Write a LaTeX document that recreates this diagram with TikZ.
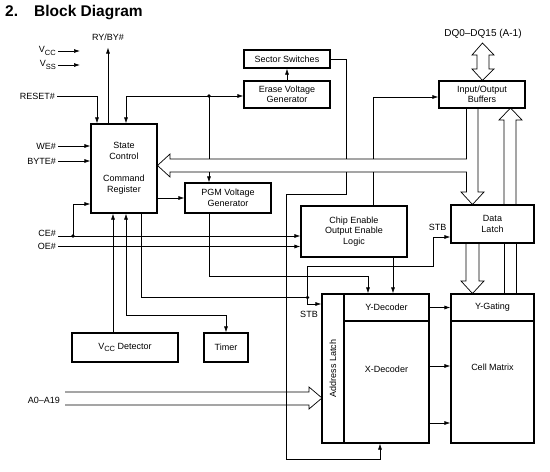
\documentclass[tikz,border=0pt]{standalone}
\usepackage{fontspec}
\setmainfont{Liberation Sans}
\usepackage{tikz}
\usetikzlibrary{arrows.meta}
\newcommand{\subtxt}[1]{\raisebox{-0.45ex}{\fontsize{7.5}{8}\selectfont #1}}

\begin{document}
\begin{tikzpicture}[x=1pt,y=-1pt,
  box/.style={draw,line width=1.2pt,fill=white,inner sep=0pt,align=center,font=\fontsize{9}{10.5}\selectfont},
  lbl/.style={inner sep=2pt,font=\fontsize{9}{10.5}\selectfont},
  wire/.style={line width=0.7pt},
  arr/.style={wire,-{Latex[length=6pt,width=4pt]}},
  arrs/.style={wire,{Latex[length=6pt,width=4pt]}-{Latex[length=6pt,width=4pt]}},
  hollow/.style={line width=0.7pt,line join=miter},
  dot/.style={circle,fill,inner sep=0pt,minimum size=3.6pt}]
  \useasboundingbox (0,0) rectangle (550,472);
  \node[anchor=base west,inner sep=0pt,font=\bfseries\fontsize{15.5}{18}\selectfont] (num) at (5,16.5) {2.};
  \node[anchor=base west,inner sep=0pt,font=\bfseries\fontsize{15.5}{18}\selectfont] (title) at (34,16.5) {Block Diagram};
  \node[box,minimum width=66pt,minimum height=89pt] (sc) at (124,168.5) {State\\Control\\[12pt]Command\\Register};
  \node[box,minimum width=86pt,minimum height=18pt] (sect) at (287,59) {Sector Switches};
  \node[box,minimum width=86pt,minimum height=27pt] (erase) at (287,94.5) {Erase Voltage\\Generator};
  \node[box,minimum width=86pt,minimum height=30pt] (pgm) at (228,198) {PGM Voltage\\Generator};
  \node[box,minimum width=86pt,minimum height=27pt] (iob) at (482,94.5) {Input/Output\\Buffers};
  \node[box,minimum width=106pt,minimum height=51pt] (ceol) at (354,231.5) {Chip Enable\\Output Enable\\Logic};
  \node[box,minimum width=83pt,minimum height=38pt] (dl) at (492.5,224) {Data\\Latch};
  \node[box,minimum width=22pt,minimum height=149pt] (al) at (333,368.5) {\rotatebox{90}{Address Latch}};
  \node[box,minimum width=85pt,minimum height=27pt] (ydec) at (386.5,307.5) {Y-Decoder};
  \node[box,minimum width=85pt,minimum height=122pt] (xdec) at (386.5,382) {};
  \node[lbl] (xdect) at ([yshift=13pt]xdec.center) {X-Decoder};
  \node[box,minimum width=83pt,minimum height=27pt] (yg) at (492.5,307.5) {Y-Gating};
  \node[box,minimum width=83pt,minimum height=122pt] (cm) at (492.5,382) {};
  \node[lbl] (cmt) at ([yshift=15pt]cm.center) {Cell Matrix};
  \node[box,minimum width=106pt,minimum height=29pt] (vccd) at (125,347.5) {V\subtxt{CC} Detector};
  \node[box,minimum width=44pt,minimum height=29pt] (timer) at (226,347.5) {Timer};
  \node[lbl] (ryby) at (108,37) {RY/BY\#};
  \node[lbl,anchor=east] (vcc) at (58,51) {V\subtxt{CC}};
  \node[lbl,anchor=east] (vss) at (58,65) {V\subtxt{SS}};
  \node[lbl,anchor=east] (reset) at (57,96) {RESET\#};
  \node[lbl,anchor=east] (we) at (58,146) {WE\#};
  \node[lbl,anchor=east] (byte) at (58,161) {BYTE\#};
  \node[lbl,anchor=east] (ce) at (58,233.5) {CE\#};
  \node[lbl,anchor=east] (oe) at (58,246.5) {OE\#};
  \node[lbl,anchor=east] (addr) at (62,400) {A0--A19};
  \node[lbl] (stba) at (309,314) {STB};
  \node[lbl] (stbb) at (437.5,227) {STB};
  \node[lbl,font=\fontsize{10}{12}\selectfont] (dq) at (483,34) {DQ0--DQ15 (A-1)};
  \draw[arr] (108,0 |- sc.north) -- ([yshift=-5pt]ryby.south);
  \draw[arr] (vcc.east) -- ++(22,0);
  \draw[arr] (vss.east) -- ++(22,0);
  \draw[arr] (reset.east) -| (97,0 |- sc.north);
  \draw[arr] (we) -- (we -| sc.west);
  \draw[arr] (byte) -- (byte -| sc.west);
  \draw[arr] ([yshift=-2.5pt]ce.east) -- ([yshift=-2.5pt]ce.east -| ceol.west);
  \draw[arr] (oe) -- (oe -| ceol.west);
  \node[dot] (cedot) at (73,236) {};
  \draw[arr] (cedot.center) |- ([yshift=-35.5pt]sc.west);
  \draw[arr] (113,0 |- vccd.north) -- (113,0 |- sc.south);
  \draw[arrs] (126,0 |- sc.south) |- (226,315) -- (timer.north);
  \node[dot] (stbdot) at (307.5,297.5) {};
  \draw[wire] (141,0 |- sc.south) |- (stbdot.center);
  \draw[arr] (stbdot.center) |- (al.west |- 0,304);
  \draw[arr] (stbdot.center) |- (433,266) |- (dl.west |- 0,237);
  \draw[arr] (sc.east |- pgm.west) -- (pgm.west);
  \draw[arr] (209,0 |- pgm.south) |- (368,276) -- (368,0 |- ydec.north);
  \draw[arr] (393,0 |- ceol.south) -- (393,0 |- ydec.north);
  \node[dot] (edot) at (209,96) {};
  \draw[wire] (edot.center) -- (209,159);
  \draw[arr] (edot.center) -| (126,0 |- sc.north);
  \draw[arr] (edot.center) -- (edot -| erase.west);
  \draw[arr] (209,172) -- (209,0 |- pgm.north);
  \draw[arr] (erase.north) -- (sect.south);
  \draw[wire] (sect.east) -| (346,159);
  \draw[arr] (346,172) |- (286,194) |- (380,459) -- (380,0 |- xdec.south);
  \draw[arr] (373,159) |- ([yshift=-2.5pt]iob.west);
  \draw[wire] (373,172) -- (373,0 |- ceol.north);
  \draw[arr] (ydec) -- (yg);
  \foreach \y in {366,423} \draw[arr] (xdec.east |- 0,\y) -- (cm.west |- 0,\y);
  \draw[hollow] (466.5,0 |- iob.south) -- (466.5,159) -- (170,159) -- (170,154) -- (157.5,165.5) -- (170,177) -- (170,172) -- (466.5,172) -- (466.5,192) -- (461,192) -- (472.5,204.5) -- (484,192) -- (478,192) -- (478,0 |- iob.south);
  \draw[hollow] (466,0 |- dl.south) -- (466,281) -- (461,281) -- (472.5,293.5) -- (484,281) -- (479,281) -- (479,0 |- dl.south);
  \draw[hollow] (504,0 |- yg.north) -- (504,0 |- dl.south);
  \draw[hollow] (516,0 |- yg.north) -- (516,0 |- dl.south);
  \draw[hollow] (504,0 |- dl.north) -- (504,120) -- (499,120) -- (510.5,108) -- (522,120) -- (516,120) -- (516,0 |- dl.north);
  \draw[hollow] (482.5,0 |- iob.north) -- (472,69) -- (477,69) -- (477,55) -- (472,55) -- (482.5,43) -- (494,55) -- (489,55) -- (489,69) -- (494,69) -- cycle;
  \draw[hollow] (65,392) -- (309,392) -- (309,387) -- (322,398) -- (309,409) -- (309,405) -- (65,405);
\end{tikzpicture}
\end{document}
